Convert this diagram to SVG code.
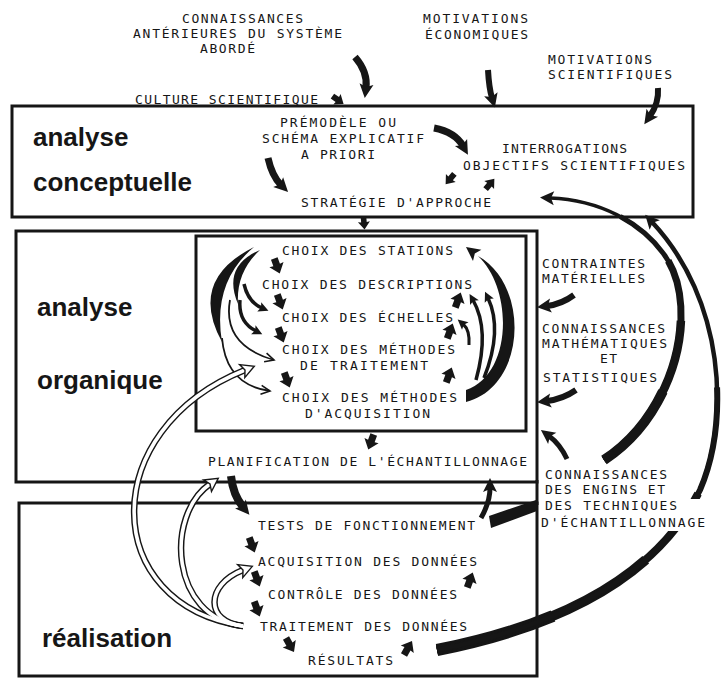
<svg xmlns="http://www.w3.org/2000/svg" width="723" height="681" viewBox="0 0 723 681">
<style>
.t{font-family:"DejaVu Sans Mono","Liberation Mono",monospace;font-size:13px;fill:#161616}
.b{font-family:"Liberation Sans",Arial,sans-serif;font-size:26px;font-weight:bold;fill:#161616}
.box{fill:none;stroke:#161616;stroke-width:3}
.th{fill:none;stroke:#161616;stroke-linecap:butt}
.fl{fill:#161616}
.hb{fill:none;stroke:#161616;stroke-width:6.5}
.hw{fill:none;stroke:#fff;stroke-width:3.6}
</style>
<defs>
<marker id="hd" markerUnits="userSpaceOnUse" markerWidth="20" markerHeight="20" viewBox="-2 -10 20 20" refX="4" refY="0" orient="auto"><path d="M0,-7 L14,0 L0,7 L3,0 Z" fill="#161616"/></marker>
<marker id="hs" markerUnits="userSpaceOnUse" markerWidth="16" markerHeight="16" viewBox="-2 -8 16 16" refX="3" refY="0" orient="auto"><path d="M0,-5 L10,0 L0,5 L2,0 Z" fill="#161616"/></marker>
<marker id="ho" markerUnits="userSpaceOnUse" markerWidth="16" markerHeight="16" viewBox="-2 -8 16 16" refX="9" refY="0" orient="auto"><path d="M0,-4.5 L9,0 L0,4.5" fill="none" stroke="#161616" stroke-width="1.6"/></marker>
<marker id="hh" markerUnits="userSpaceOnUse" markerWidth="20" markerHeight="20" viewBox="-2 -10 20 20" refX="3" refY="0" orient="auto"><path d="M0,-7 L13,0 L0,7 L3,0 Z" fill="#fff" stroke="#161616" stroke-width="1.4"/></marker>
<path id="blk" d="M-3.5,-8 L3.5,-8 L3.5,-1 L7.5,-1.5 L0,8 L-7.5,-1.5 L-3.5,-1 Z" fill="#161616"/>
</defs>
<rect width="723" height="681" fill="#fff"/>

<g id="stage-conceptuelle">
<rect class="box" x="12" y="106" width="681" height="111"/>
<text class="b" x="33" y="146">analyse</text>
<text class="b" x="33" y="191">conceptuelle</text>
</g>
<g id="stage-organique">
<rect class="box" x="16" y="231" width="521" height="251"/>
<text class="b" x="37" y="316">analyse</text>
<text class="b" x="37" y="389">organique</text>
</g>
<g id="box-choix">
<rect class="box" x="196" y="236" width="330" height="195"/>
</g>
<g id="stage-realisation">
<rect class="box" x="19" y="503" width="518" height="173"/>
<line x1="537" y1="480" x2="537" y2="505" stroke="#161616" stroke-width="3"/>
<text class="b" x="42" y="647">réalisation</text>
</g>

<g id="connectors">
<!-- top inputs -->
<path class="th" stroke-width="7" d="M355 57 Q368 72 366 88" marker-end="url(#hd)"/>
<path class="th" stroke-width="6" d="M488 70 Q489 88 492 98" marker-end="url(#hd)"/>
<path class="th" stroke-width="6" d="M658 88 Q659 103 650 116" marker-end="url(#hd)"/>
<use href="#blk" transform="translate(338,100) rotate(-55) scale(0.85)"/>
<!-- conceptual -->
<path class="th" stroke-width="7" d="M434 128 Q455 132 463 146" marker-end="url(#hd)"/>
<path class="th" stroke-width="7" d="M268 158 Q272 176 281 185" marker-end="url(#hd)"/>
<use href="#blk" transform="translate(450,179) rotate(40) scale(0.85)"/>
<use href="#blk" transform="translate(490,184) rotate(220) scale(0.85)"/>
<use href="#blk" transform="translate(364,223) rotate(-5) scale(0.8)"/>
<!-- inner left -->
<path class="fl" d="M254 247 Q188 280 222 342 Q212 282 254 247 Z"/>
<path class="fl" d="M260 250 Q222 266 238 304 Q236 272 260 250 Z"/>
<path class="th" stroke-width="3.5" d="M244 284 Q248 302 262 308" marker-end="url(#hs)"/>
<path class="th" stroke-width="3.5" d="M240 300 Q238 322 256 331" marker-end="url(#hs)"/>
<path class="th" stroke-width="1.8" d="M230 300 Q222 345 274 360" marker-end="url(#ho)"/>
<path class="th" stroke-width="1.8" d="M222 338 Q226 385 270 391" marker-end="url(#ho)"/>
<use href="#blk" transform="translate(277,266) rotate(-20)"/>
<use href="#blk" transform="translate(280,302) rotate(-20)"/>
<use href="#blk" transform="translate(281,335) rotate(-20)"/>
<use href="#blk" transform="translate(287,380) rotate(-20)"/>
<!-- inner right -->
<path class="fl" d="M466 402 C527 386 530 285 478 256 C514 290 512 375 466 390 Z"/>
<path d="M482 259 L474 253" fill="none" stroke="none" marker-end="url(#hd)"/>
<path class="th" stroke-width="3.5" d="M476 380 Q490 330 473 300" marker-end="url(#hs)"/>
<path class="th" stroke-width="3.5" d="M484 378 Q503 330 488 298" marker-end="url(#hs)"/>
<path class="th" stroke-width="3" d="M469 345 Q470 330 463 324" marker-end="url(#hs)"/>
<use href="#blk" transform="translate(458,300) rotate(200)"/>
<use href="#blk" transform="translate(450,331) rotate(200)"/>
<use href="#blk" transform="translate(449,375) rotate(200)"/>
<!-- planification -->
<use href="#blk" transform="translate(371,442) rotate(20)"/>
<path class="th" stroke-width="8" d="M231 476 Q233 495 243 507" marker-end="url(#hd)"/>
<path class="th" stroke-width="5" d="M481 518 Q490 502 490 488" marker-end="url(#hd)"/>
<!-- realisation -->
<use href="#blk" transform="translate(252,545) rotate(-20)"/>
<use href="#blk" transform="translate(257,579) rotate(-20)"/>
<use href="#blk" transform="translate(257,609) rotate(-20)"/>
<use href="#blk" transform="translate(290,645) rotate(-30)"/>
<use href="#blk" transform="translate(470,580) rotate(200)"/>
<use href="#blk" transform="translate(408,648) rotate(210)"/>
<!-- hollow feedback arrows -->
<path class="hb" d="M243 626 C100 605 95 430 245 370"/>
<path class="hb" d="M243 626 C170 618 165 515 210 484"/>
<path class="hb" d="M243 626 C205 622 205 585 243 570"/>
<path class="hw" d="M243 626 C100 605 95 430 245 370" marker-end="url(#hh)"/>
<path class="hw" d="M243 626 C170 618 165 515 210 484" marker-end="url(#hh)"/>
<path class="hw" d="M243 626 C205 622 205 585 243 570" marker-end="url(#hh)"/>
<!-- external inputs right -->
<path class="th" stroke-width="6" d="M574 295 Q562 304 547 306" marker-end="url(#hd)"/>
<path class="th" stroke-width="6" d="M576 390 Q563 399 547 401" marker-end="url(#hd)"/>
<path class="th" stroke-width="5" d="M567 459 Q560 444 549 436" marker-end="url(#hd)"/>
<polygon class="fl" points="489,516 536,500 537,511 491,528"/>
<!-- arc A: resultats to objectifs -->
<path class="th" pathLength="100" stroke-width="12" stroke-dasharray="20 200" d="M437 650 Q640 610 700 490 C730 420 725 300 652 222"/>
<path class="th" pathLength="100" stroke-width="10" stroke-dasharray="38 200" d="M437 650 Q640 610 700 490 C730 420 725 300 652 222"/>
<path class="th" pathLength="100" stroke-width="8" stroke-dasharray="52 200" d="M437 650 Q640 610 700 490 C730 420 725 300 652 222"/>
<path class="th" pathLength="100" stroke-width="6" stroke-dasharray="70 200" d="M437 650 Q640 610 700 490 C730 420 725 300 652 222"/>
<path class="th" stroke-width="4.5" d="M437 650 Q640 610 700 490 C730 420 725 300 652 222" marker-end="url(#hd)"/>
<!-- arc B: engins to strategie -->
<path class="th" pathLength="100" stroke-width="10" stroke-dasharray="25 200" d="M604 460 C680 410 700 300 663 253 C640 222 600 200 550 198"/>
<path class="th" pathLength="100" stroke-width="8.5" stroke-dasharray="45 200" d="M604 460 C680 410 700 300 663 253 C640 222 600 200 550 198"/>
<path class="th" pathLength="100" stroke-width="7" stroke-dasharray="62 200" d="M604 460 C680 410 700 300 663 253 C640 222 600 200 550 198"/>
<path class="th" pathLength="100" stroke-width="5" stroke-dasharray="80 200" d="M604 460 C680 410 700 300 663 253 C640 222 600 200 550 198"/>
<path class="th" stroke-width="3.5" d="M604 460 C680 410 700 300 663 253 C640 222 600 200 550 198" marker-end="url(#hd)"/>
</g>

<g id="n-connaissances-anterieures">
<text class="t" x="182" y="23" textLength="121">CONNAISSANCES</text>
<text class="t" x="133" y="38" textLength="209">ANTÉRIEURES DU SYSTÈME</text>
<text class="t" x="200" y="53" textLength="55">ABORDÉ</text>
</g>
<g id="n-culture"><text class="t" x="135" y="104" textLength="183">CULTURE SCIENTIFIQUE</text></g>
<g id="n-motiv-eco">
<text class="t" x="423" y="23" textLength="105">MOTIVATIONS</text>
<text class="t" x="425" y="39" textLength="103">ÉCONOMIQUES</text>
</g>
<g id="n-motiv-sci">
<text class="t" x="548" y="64" textLength="104">MOTIVATIONS</text>
<text class="t" x="548" y="79" textLength="124">SCIENTIFIQUES</text>
</g>
<g id="n-premodele">
<text class="t" x="280" y="127" textLength="116">PRÉMODÈLE OU</text>
<text class="t" x="262" y="143" textLength="162">SCHÉMA EXPLICATIF</text>
<text class="t" x="301" y="159" textLength="74">A PRIORI</text>
</g>
<g id="n-interrogations">
<text class="t" x="502" y="153" textLength="125">INTERROGATIONS</text>
<text class="t" x="463" y="170" textLength="222">OBJECTIFS SCIENTIFIQUES</text>
</g>
<g id="n-strategie"><text class="t" x="301" y="207" textLength="190">STRATÉGIE D'APPROCHE</text></g>
<g id="n-stations"><text class="t" x="282" y="255" textLength="171">CHOIX DES STATIONS</text></g>
<g id="n-descriptions"><text class="t" x="262" y="289" textLength="210">CHOIX DES DESCRIPTIONS</text></g>
<g id="n-echelles"><text class="t" x="282" y="322" textLength="171">CHOIX DES ÉCHELLES</text></g>
<g id="n-traitement-methodes">
<text class="t" x="282" y="354" textLength="173">CHOIX DES MÉTHODES</text>
<text class="t" x="300" y="370" textLength="128">DE TRAITEMENT</text>
</g>
<g id="n-acquisition-methodes">
<text class="t" x="282" y="402" textLength="175">CHOIX DES MÉTHODES</text>
<text class="t" x="305" y="418" textLength="125">D'ACQUISITION</text>
</g>
<g id="n-planification"><text class="t" x="208" y="466" textLength="319">PLANIFICATION DE L'ÉCHANTILLONNAGE</text></g>
<g id="n-contraintes">
<text class="t" x="542" y="268" textLength="103">CONTRAINTES</text>
<text class="t" x="542" y="283" textLength="103">MATÉRIELLES</text>
</g>
<g id="n-math">
<text class="t" x="542" y="333" textLength="123">CONNAISSANCES</text>
<text class="t" x="542" y="348" textLength="125">MATHÉMATIQUES</text>
<text class="t" x="600" y="363" textLength="17">ET</text>
<text class="t" x="543" y="382" textLength="114">STATISTIQUES</text>
</g>
<g id="n-engins">
<rect x="540" y="499" width="170" height="32" fill="#fff"/>
<text class="t" x="545" y="479" textLength="122">CONNAISSANCES</text>
<text class="t" x="545" y="494" textLength="120">DES ENGINS ET</text>
<text class="t" x="545" y="510" textLength="132">DES TECHNIQUES</text>
<text class="t" x="541" y="527" textLength="164">D'ÉCHANTILLONNAGE</text>
</g>
<g id="n-tests"><text class="t" x="258" y="530" textLength="217">TESTS DE FONCTIONNEMENT</text></g>
<g id="n-acquisition"><text class="t" x="258" y="566" textLength="219">ACQUISITION DES DONNÉES</text></g>
<g id="n-controle"><text class="t" x="268" y="599" textLength="189">CONTRÔLE DES DONNÉES</text></g>
<g id="n-traitement"><text class="t" x="260" y="631" textLength="207">TRAITEMENT DES DONNÉES</text></g>
<g id="n-resultats"><text class="t" x="308" y="665" textLength="85">RÉSULTATS</text></g>
</svg>
